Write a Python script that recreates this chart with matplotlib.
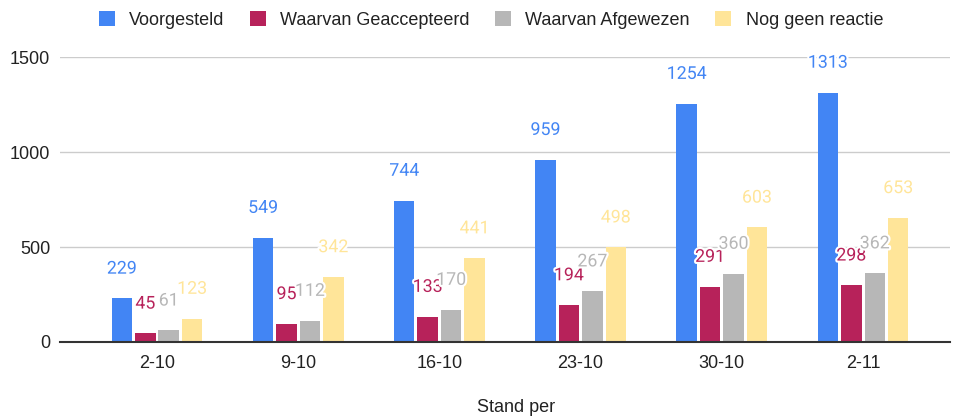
import matplotlib.pyplot as plt
import matplotlib.patheffects as pe
from matplotlib.patches import Patch
import numpy as np

# data
dates = ['2-10', '9-10', '16-10', '23-10', '30-10', '2-11']
voorgesteld = [229, 549, 744, 959, 1254, 1313]
geaccepteerd = [45, 95, 133, 194, 291, 298]
afgewezen = [61, 112, 170, 267, 360, 362]
geen_reactie = [123, 342, 441, 498, 603, 653]

series = [voorgesteld, geaccepteerd, afgewezen, geen_reactie]
names = ['Voorgesteld', 'Waarvan Geaccepteerd', 'Waarvan Afgewezen', 'Nog geen reactie']
colors = ['#4285F4', '#B7225A', '#B7B7B7', '#FFE599']

plt.rcParams['font.family'] = ['Liberation Sans', 'DejaVu Sans']

fig = plt.figure(figsize=(9.64, 4.18), dpi=100)
ax = fig.add_axes([60/964, 76/418, 890/964, 285/418])

x = np.arange(len(dates))
pitch = 0.166
width = 0.145
for i, (vals, name, c) in enumerate(zip(series, names, colors)):
    pos = x + (i - 1.5) * pitch
    ax.bar(pos, vals, width=width, color=c, label=name, zorder=3)
    for px, v in zip(pos, vals):
        ax.annotate(str(v), (px, v), xytext=(0, 15), textcoords='offset points',
                    ha='center', va='bottom', color=c, fontsize=12.8,
                    family=['Roboto', 'DejaVu Sans'], zorder=4,
                    path_effects=[pe.withStroke(linewidth=3, foreground='white')])

ax.set_xlim(-0.687, 5.616)
ax.set_ylim(0, 1500)
ax.set_yticks([0, 500, 1000, 1500])
ax.set_xticks(x)
ax.set_xticklabels(dates)
ax.tick_params(axis='both', length=0, labelsize=13, colors='#222222')
ax.tick_params(axis='x', pad=9)
ax.tick_params(axis='y', pad=7)
ax.grid(axis='y', color='#CCCCCC', linewidth=1, zorder=0)
for s in ['top', 'right', 'left']:
    ax.spines[s].set_visible(False)
ax.spines['bottom'].set_color('#333333')
ax.spines['bottom'].set_linewidth(1.5)
ax.spines['bottom'].set_zorder(5)

fig.text(516/964, 1 - 408/418, 'Stand per', ha='center', va='center', fontsize=13, color='#222222')

handles = [Patch(facecolor=c, label=n) for c, n in zip(colors, names)]
fig.legend(handles=handles, loc='center', bbox_to_anchor=(491/964, 1 - 20/418), ncol=4,
           frameon=False, fontsize=13, handlelength=0.9, handleheight=0.9,
           handletextpad=0.78, columnspacing=1.4, labelcolor='#222222')

fig.savefig('out.png', dpi=100)
